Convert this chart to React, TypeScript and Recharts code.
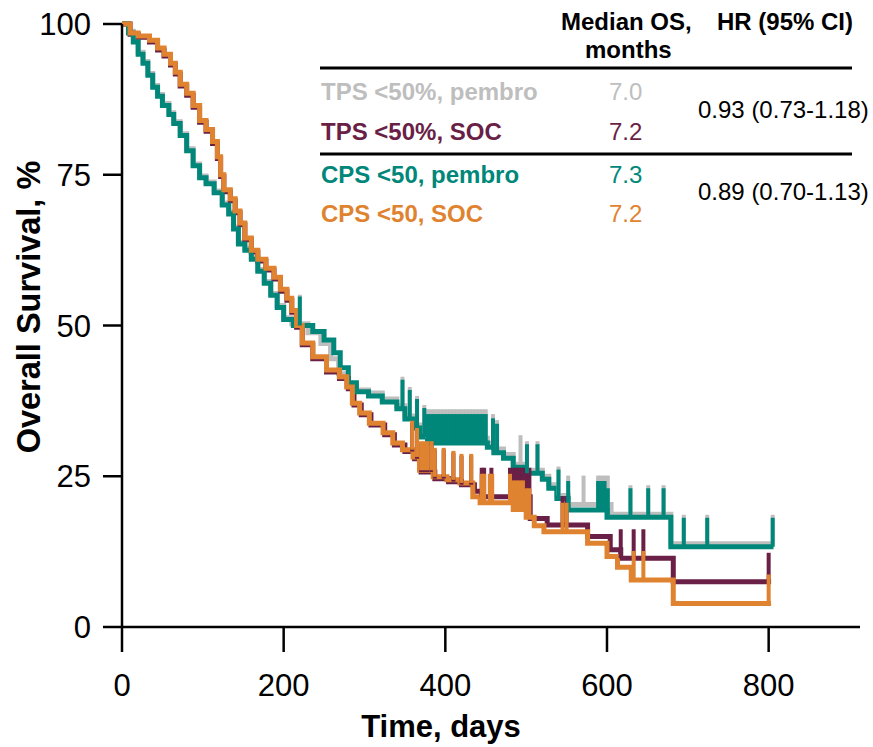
import React from 'react';
import { ComposedChart, Line, Scatter, XAxis, YAxis } from 'recharts';

// days / survival %
const tpsPembroT = [0, 8, 14, 20, 26, 32, 38, 44, 50, 58, 64, 72, 80, 88, 96, 104, 114, 124, 132, 138, 144, 152, 160, 168, 176, 184, 192, 200, 210, 230, 246, 258, 268, 278, 290, 305, 322, 340, 350, 362, 370, 378, 452, 460, 472, 484, 500, 520, 528, 538, 552, 590, 605, 679, 806];
const tpsPembroS = [100, 98.8, 97.3, 95.3, 93.8, 91.8, 89.8, 88.3, 86.8, 85.3, 83.8, 81.8, 79.3, 76.8, 74.8, 73.8, 72.3, 70.3, 68.8, 66.3, 63.8, 62.8, 61.3, 59.3, 57.3, 55.3, 53.3, 51.3, 50.3, 48.8, 47, 44.5, 42, 40, 39.3, 38.8, 37.8, 36.7, 35, 33.5, 32, 31.3, 30.5, 29.5, 28.6, 27, 26, 25, 23.6, 21.8, 20.3, 20.3, 18.7, 13.8, 13.8];

const tpsSocT = [0, 10, 20, 34, 44, 52, 60, 66, 72, 80, 88, 96, 104, 112, 118, 122, 126, 134, 140, 146, 152, 160, 168, 178, 188, 196, 204, 210, 216, 223, 236, 253, 269, 280, 287, 296, 308, 325, 337, 350, 362, 370, 387, 404, 420, 436, 445, 455, 505, 526, 576, 604, 617, 682, 803];
const tpsSocS = [100, 98.3, 97.8, 97, 95.7, 94.7, 93.2, 91.7, 89.7, 88.2, 86.2, 83.7, 82.2, 80.2, 77.7, 74.7, 72.2, 70.7, 68.7, 66.7, 64.2, 62.2, 60.7, 59.2, 57.7, 55.7, 54.2, 52.2, 49.7, 46.8, 44.5, 42.3, 41.2, 39.5, 36.8, 35.2, 33.5, 31.9, 30.2, 29.1, 27.9, 25.7, 24.6, 24.1, 23.6, 22.5, 21.6, 21.6, 18, 16.9, 15, 12.8, 11.4, 7.5, 7.5];

const cpsPembroT = [0, 8, 14, 20, 26, 32, 38, 44, 50, 58, 64, 72, 80, 88, 96, 104, 114, 124, 132, 138, 144, 152, 160, 168, 176, 184, 192, 200, 212, 236, 250, 262, 270, 280, 290, 305, 322, 340, 350, 362, 370, 378, 452, 460, 472, 484, 500, 520, 528, 538, 552, 600, 679, 806];
const cpsPembroS = [100, 98.5, 97, 95, 93.5, 91.5, 89.5, 88, 86.5, 85, 83.5, 81.5, 79, 76.5, 74.5, 73.5, 72, 70, 68.5, 66, 63.5, 62.5, 61, 59, 57, 55, 53, 51, 50, 49, 47.6, 45.5, 43, 40.5, 39, 38.3, 37.3, 36.2, 34.5, 33, 31.5, 30.5, 29.8, 28.9, 28, 26.5, 25.5, 24.5, 23, 21.3, 19.4, 18.2, 13.3, 13.3];

const cpsSocT = [0, 10, 20, 34, 44, 52, 60, 66, 72, 80, 88, 96, 104, 112, 118, 122, 126, 134, 140, 146, 152, 160, 168, 178, 188, 196, 204, 210, 216, 223, 236, 253, 269, 278, 285, 294, 306, 323, 335, 347, 360, 368, 385, 402, 418, 434, 443, 484, 500, 510, 522, 576, 600, 613, 630, 682, 803];
const cpsSocS = [100, 98.5, 98, 97.3, 96, 95, 93.5, 92, 90, 88.5, 86.5, 84, 82.5, 80.5, 78, 75, 72.5, 71, 69, 67, 64.5, 62.5, 61, 59.5, 58, 56, 54.5, 52.5, 50, 47.1, 44.8, 42.6, 41.5, 39.8, 37.1, 35.5, 33.8, 32.2, 30.5, 29.4, 28.2, 26, 24.9, 24.4, 23.9, 21.6, 20.6, 19.5, 18.2, 16.8, 15.8, 13.9, 11.7, 9.9, 7.8, 3.9, 3.9];

// censoring times (days)
const tpsPembroCens = [220, 347, 356, 365, 374, 378, 382, 386, 390, 394, 398, 402, 406, 410, 414, 418, 422, 426, 430, 434, 438, 442, 446, 450, 459, 464, 493, 501, 514, 540, 552, 571, 589, 593, 597, 601, 629, 651, 670, 695, 724, 805];
const tpsSocCens = [359, 365, 370, 374, 378, 383, 387, 398, 410, 420, 432, 445, 448, 457, 480, 484, 488, 492, 496, 500, 504, 545, 550, 617, 633, 645, 800];
const cpsPembroCens = [220, 347, 356, 365, 374, 378, 382, 386, 390, 394, 398, 402, 406, 410, 414, 418, 422, 426, 430, 434, 438, 442, 446, 450, 459, 464, 501, 514, 540, 552, 589, 593, 597, 601, 629, 651, 670, 695, 724, 805];
const cpsSocCens = [359, 365, 370, 374, 378, 383, 387, 398, 410, 420, 432, 445, 448, 455, 458, 480, 484, 488, 492, 496, 500, 504, 545, 550, 633, 645, 800];

const xTicks = [0, 200, 400, 600, 800];
const yTicks = [0, 25, 50, 75, 100];

const C_GRAY = '#BEBEBE';
const C_PURPLE = '#6A1F46';
const C_TEAL = '#00877A';
const C_ORANGE = '#E08330';
const FONT = '"Liberation Sans", Arial, sans-serif';

const toCurve = (T: number[], S: number[]) => T.map((x, i) => ({ x, y: S[i] }));

const survAt = (T: number[], S: number[], t: number) => {
  let v = S[0];
  for (let i = 0; i < T.length; i++) {
    if (T[i] <= t) v = S[i];
  }
  return v;
};

const toCens = (C: number[], T: number[], S: number[]) => C.map((x) => ({ x, y: survAt(T, S, x) }));

const spike = (color: string) => (props: any) => (
  <line x1={props.cx} y1={props.cy} x2={props.cx} y2={props.cy - 29} stroke={color} strokeWidth={4} />
);

const rows = [
  { label: 'TPS <50%, pembro', median: '7.0', color: C_GRAY, y: 100 },
  { label: 'TPS <50%, SOC', median: '7.2', color: C_PURPLE, y: 140 },
  { label: 'CPS <50, pembro', median: '7.3', color: C_TEAL, y: 183 },
  { label: 'CPS <50, SOC', median: '7.2', color: C_ORANGE, y: 222 },
];

export default function App() {
  const series = [
    { T: tpsPembroT, S: tpsPembroS, C: tpsPembroCens, color: C_GRAY },
    { T: tpsSocT, S: tpsSocS, C: tpsSocCens, color: C_PURPLE },
    { T: cpsPembroT, S: cpsPembroS, C: cpsPembroCens, color: C_TEAL },
    { T: cpsSocT, S: cpsSocS, C: cpsSocCens, color: C_ORANGE },
  ];

  return (
    <div style={{ position: 'absolute', left: 0, top: 0, width: 873, height: 747, background: '#fff', fontFamily: FONT }}>
      <ComposedChart width={873} height={747} margin={{ top: 24, right: 13, bottom: 0, left: 0 }}>
        <XAxis
          type="number"
          dataKey="x"
          domain={[0, 913]}
          ticks={xTicks}
          height={120}
          tickSize={25}
          tickMargin={22}
          stroke="#000"
          strokeWidth={2.5}
          tick={{ fontSize: 31, fill: '#000', fontFamily: FONT }}
          allowDataOverflow
        />
        <YAxis
          type="number"
          domain={[0, 100]}
          ticks={yTicks}
          width={122}
          tickSize={19}
          tickMargin={12}
          stroke="#000"
          strokeWidth={2.5}
          tick={{ fontSize: 31, fill: '#000', fontFamily: FONT }}
        />
        {series.flatMap((s, i) => [
          <Line
            key={'l' + i}
            data={toCurve(s.T, s.S)}
            dataKey="y"
            type="stepAfter"
            stroke={s.color}
            strokeWidth={5}
            dot={false}
            activeDot={false}
            isAnimationActive={false}
          />,
          <Scatter
            key={'s' + i}
            data={toCens(s.C, s.T, s.S)}
            dataKey="y"
            shape={spike(s.color)}
            isAnimationActive={false}
          />,
        ])}
      </ComposedChart>
      <svg width={873} height={747} style={{ position: 'absolute', left: 0, top: 0, pointerEvents: 'none' }} fontFamily={FONT}>
        <text x={441} y={737} textAnchor="middle" fontSize={31} fontWeight="bold" fill="#000">Time, days</text>
        <text x={40} y={307} textAnchor="middle" fontSize={32.5} fontWeight="bold" fill="#000" transform="rotate(-90 40 307)">Overall Survival, %</text>

        <text x={561} y={30} fontSize={24} fontWeight="bold" fill="#000">Median OS,</text>
        <text x={585} y={58} fontSize={24} fontWeight="bold" fill="#000">months</text>
        <text x={717} y={30} fontSize={24} fontWeight="bold" fill="#000">HR (95% CI)</text>
        <line x1={320} x2={852} y1={68} y2={68} stroke="#000" strokeWidth={3} />
        <line x1={320} x2={852} y1={154} y2={154} stroke="#000" strokeWidth={3} />
        {rows.map((r) => (
          <g key={r.label}>
            <text x={321} y={r.y} fontSize={24} fontWeight="bold" fill={r.color}>{r.label}</text>
            <text x={609} y={r.y} fontSize={24} fill={r.color}>{r.median}</text>
          </g>
        ))}
        <text x={698} y={118} fontSize={24} fill="#000">0.93 (0.73-1.18)</text>
        <text x={698} y={200} fontSize={24} fill="#000">0.89 (0.70-1.13)</text>
      </svg>
    </div>
  );
}
